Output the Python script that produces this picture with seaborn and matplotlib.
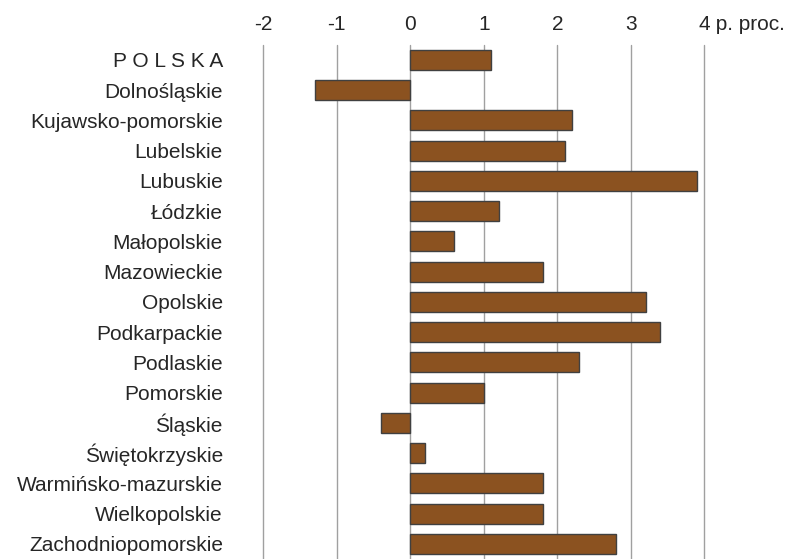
import matplotlib
matplotlib.use("Agg")
import matplotlib.pyplot as plt
import matplotlib.transforms as mtransforms
import pandas as pd
import seaborn as sns

# dane: zmiana w p. proc.
regions = ["P O L S K A", "Dolnośląskie", "Kujawsko-pomorskie", "Lubelskie", "Lubuskie",
           "Łódzkie", "Małopolskie", "Mazowieckie", "Opolskie", "Podkarpackie",
           "Podlaskie", "Pomorskie", "Śląskie", "Świętokrzyskie",
           "Warmińsko-mazurskie", "Wielkopolskie", "Zachodniopomorskie"]
values = [1.1, -1.3, 2.2, 2.1, 3.9, 1.2, 0.6, 1.8, 3.2, 3.4,
          2.3, 1.0, -0.4, 0.2, 1.8, 1.8, 2.8]
tick_vals = [-2, -1, 0, 1, 2, 3, 4]

df = pd.DataFrame({"region": regions, "value": values})

sns.set_style("white")
plt.rcParams["font.family"] = ["Liberation Sans", "DejaVu Sans"]

fig = plt.figure(figsize=(7.88, 5.59), dpi=100)
ax = fig.add_axes([0.334, 0.0, 0.560, 0.92])

sns.barplot(data=df, x="value", y="region", orient="h", color="#8B5220",
            saturation=1, width=0.66, edgecolor="#404040", linewidth=1, ax=ax, zorder=3)

ax.set_xlim(-2, 4)
ax.set_xticks(tick_vals)
ax.set_xticklabels([str(t) for t in tick_vals])
ax.xaxis.tick_top()
ax.tick_params(axis="x", length=0, pad=8, labelsize=15)
ax.tick_params(axis="y", length=0, pad=29, labelsize=15)
ax.grid(axis="x", color="#a0a0a0", linewidth=1, zorder=0)
for gl in ax.get_xgridlines():
    gl.set_clip_on(False)
ax.set_ylim(16.5, -0.5)
ax.set_xlabel("")
ax.set_ylabel("")
for s in ax.spines.values():
    s.set_visible(False)

# dopisek jednostki obok etykiety "4"
trans = mtransforms.blended_transform_factory(ax.transData, ax.transAxes)
ax.annotate(" p. proc.", xy=(4, 1), xycoords=trans, xytext=(4.2, 8),
            textcoords="offset points", ha="left", va="bottom", fontsize=15)

plt.savefig("out.png", dpi=100)
